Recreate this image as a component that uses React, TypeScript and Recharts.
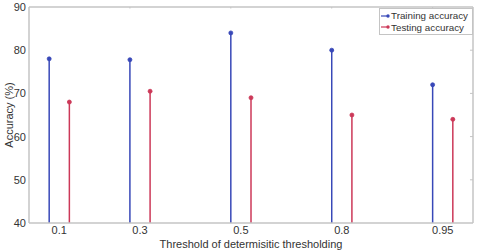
import React from 'react';
import {
    ScatterChart, Scatter, XAxis, YAxis, ReferenceLine, Legend,
} from 'recharts';

// threshold groups, their centre positions on the axis, and the two accuracies
const thresholds = ['0.1', '0.3', '0.5', '0.8', '0.95'];
const groupPos = [0.3, 1.1, 2.1, 3.1, 4.1];
const trainingAcc = [78, 77.8, 84, 80, 72];
const testingAcc = [68, 70.5, 69, 65, 64];
const yTicks = [40, 50, 60, 70, 80, 90];
const boxTicks = [1, 2, 3, 4];

const X_MAX = 4.4;
const Y_MIN = 40;
const Y_MAX = 90;
const BLUE = '#3848b8';
const RED = '#cc3858';
const AXIS = '#c4c4c4';
const TEXT = '#333';
const FONT = '"Liberation Sans", Arial, sans-serif';
const OFFSET = 0.1;
// inward tick length expressed in data units
const TICK_Y = 0.35;
const TICK_X = 0.03;

const trainData = groupPos.map((p, i) => ({x: p - OFFSET, y: trainingAcc[i]}));
const testData = groupPos.map((p, i) => ({x: p + OFFSET, y: testingAcc[i]}));

const Dot = (color: string) => (props: any) =>
    <circle cx={props.cx} cy={props.cy} r={2} fill={color} stroke={color} strokeWidth={0.8}/>;

// zero-size wrapper so the legend does not shrink the plot area
const renderLegend = () => (
    <div style={{position: 'relative', width: 0, height: 0}}>
        <div style={{
            position: 'absolute', right: 0, top: 0, whiteSpace: 'nowrap',
            border: `1px solid ${AXIS}`, background: '#fff', padding: '1px 4px 1px 1px',
            fontFamily: FONT, fontSize: 9.8, color: TEXT, lineHeight: '11.5px',
        }}>
            {[['Training accuracy', BLUE], ['Testing accuracy', RED]].map(([name, c]) => (
                <div key={name} style={{display: 'flex', alignItems: 'center'}}>
                    <svg width={9} height={8} style={{marginRight: 1}}>
                        <line x1={0} y1={4} x2={8} y2={4} stroke={c} strokeWidth={1.2}/>
                        <circle cx={7} cy={4} r={1.7} fill={c}/>
                    </svg>
                    {name}
                </div>
            ))}
        </div>
    </div>
);

export default function App() {
    const ref = {xAxisId: 'main', yAxisId: 'left', ifOverflow: 'visible' as const};
    return (
        <div style={{position: 'absolute', left: 0, top: 0, background: '#fff'}}>
            <ScatterChart width={485} height={250} margin={{top: 7, right: 12, bottom: 0, left: 0}}>
                <XAxis
                    type="number" dataKey="x" xAxisId="main" domain={[0, X_MAX]}
                    ticks={groupPos} tickFormatter={(v: number) => thresholds[groupPos.indexOf(v)]}
                    tickLine={false} tickSize={0} axisLine={{stroke: AXIS, strokeWidth: 1.5}}
                    tick={{fill: TEXT, fontSize: 11, fontFamily: FONT}} tickMargin={3}
                    height={27} allowDataOverflow
                    label={{value: 'Threshold of determisitic thresholding', position: 'insideBottom', offset: 2,
                        fill: TEXT, fontSize: 11, fontFamily: FONT}}
                />
                <YAxis
                    type="number" dataKey="y" yAxisId="left" domain={[Y_MIN, Y_MAX]} ticks={yTicks}
                    width={29} tickSize={0} tickLine={false} tickMargin={3}
                    axisLine={{stroke: AXIS, strokeWidth: 1.5}}
                    tick={{fill: TEXT, fontSize: 11, fontFamily: FONT}}
                    label={{value: 'Accuracy  (%)', angle: -90, position: 'insideLeft', offset: 9,
                        style: {textAnchor: 'middle', whiteSpace: 'pre'}, fill: TEXT, fontSize: 11, fontFamily: FONT}}
                />
                {/* box: top and right edges */}
                <ReferenceLine {...ref} y={Y_MAX} stroke={AXIS} strokeWidth={1.5}/>
                <ReferenceLine {...ref} x={X_MAX} stroke={AXIS} strokeWidth={1.5}/>
                {/* inward tick marks on bottom, top and right edges */}
                {boxTicks.map((t) =>
                    <ReferenceLine key={'bt' + t} {...ref} stroke={AXIS}
                                   segment={[{x: t, y: Y_MIN}, {x: t, y: Y_MIN + TICK_Y}]}/>
                )}
                {boxTicks.map((t) =>
                    <ReferenceLine key={'tt' + t} {...ref} stroke={AXIS}
                                   segment={[{x: t, y: Y_MAX}, {x: t, y: Y_MAX - TICK_Y}]}/>
                )}
                {yTicks.slice(1, -1).map((v) =>
                    <ReferenceLine key={'rt' + v} {...ref} stroke={AXIS}
                                   segment={[{x: X_MAX, y: v}, {x: X_MAX - TICK_X, y: v}]}/>
                )}
                {trainData.map((d, i) =>
                    <ReferenceLine key={'tr' + i} {...ref}
                                   segment={[{x: d.x, y: Y_MIN}, {x: d.x, y: d.y}]}
                                   stroke={BLUE} strokeWidth={1.5}/>
                )}
                {testData.map((d, i) =>
                    <ReferenceLine key={'te' + i} {...ref}
                                   segment={[{x: d.x, y: Y_MIN}, {x: d.x, y: d.y}]}
                                   stroke={RED} strokeWidth={1.5}/>
                )}
                <Scatter name="Training accuracy" data={trainData} xAxisId="main" yAxisId="left"
                         fill={BLUE} shape={Dot(BLUE)} isAnimationActive={false}/>
                <Scatter name="Testing accuracy" data={testData} xAxisId="main" yAxisId="left"
                         fill={RED} shape={Dot(RED)} isAnimationActive={false}/>
                <Legend content={renderLegend}
                        wrapperStyle={{position: 'absolute', top: 8, left: 473, width: 0, height: 0}}/>
            </ScatterChart>
        </div>
    );
}
